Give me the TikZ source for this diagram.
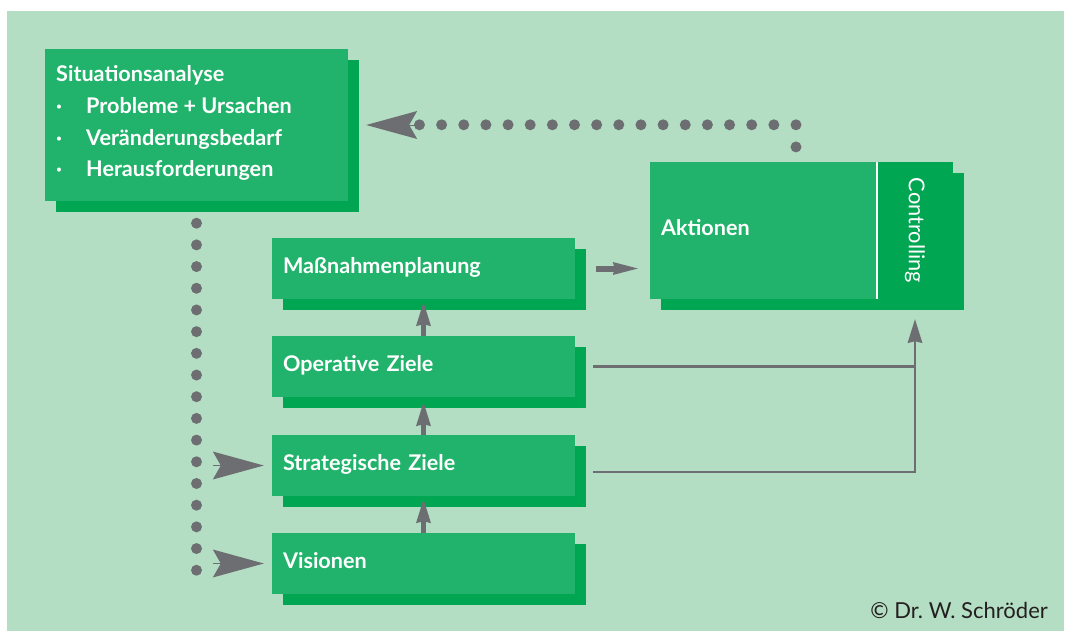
\documentclass[tikz,border=0pt]{standalone}
\usepackage{fontspec}
\setmainfont{Lato}
\usetikzlibrary{arrows.meta,shadows,calc}
\definecolor{bg}{HTML}{B4DEC3}
\definecolor{boxgreen}{HTML}{21B36B}
\definecolor{darkgreen}{HTML}{00A651}
\definecolor{arrowgray}{HTML}{6D6E71}
\definecolor{inkdark}{HTML}{231F20}
\newcommand{\boxfont}{\bfseries\fontsize{21.6}{26}\selectfont}
\tikzset{
  box/.style={fill=boxgreen, draw=none,
    general shadow={fill=darkgreen, shadow xshift=11pt, shadow yshift=-11pt},
    minimum width=303pt, text width=281pt, inner xsep=11pt, inner ysep=0pt,
    text height=15.7pt, text depth=5.7pt, align=left, font=\boxfont, text=white},
  lbl/.style={anchor=base west, inner sep=0pt, text=white, font=\boxfont},
  dots/.style={arrowgray, line width=11pt, line cap=round, dash pattern=on 0pt off #1},
  uparrow/.style={draw=arrowgray, line width=5pt,
    -{Stealth[length=24pt, width=15pt, inset=2pt, line width=0pt]}},
  rarrow/.style={draw=arrowgray, line width=6pt,
    -{Stealth[length=25pt, width=13pt, inset=2pt, line width=0pt]}},
  ctrlline/.style={draw=arrowgray, line width=2.5pt},
  ctrlarrow/.style={ctrlline, -{Stealth[length=24pt, width=15pt, inset=2pt, line width=0pt]}},
  bigarrow/.style={draw=arrowgray, line width=0.2pt,
    -{Stealth[length=51pt, width=28pt, inset=8pt, line width=0pt]}},
}
\begin{document}
\begin{tikzpicture}[x=1pt, y=-1pt]
  % page and panel
  \fill[white] (0,0) rectangle (1071,631);
  \useasboundingbox (0,0) rectangle (1071,631);
  \fill[bg] (7,11) rectangle (1064,631);

  % situation analysis
  \node[box, minimum height=152pt] (sa) at (196.5,125) {};
  \node[lbl] (s1) at (56,82) {Situationsanalyse};
  \node[lbl] (b2) at (56,113.7) {·};
  \node[lbl] (s2) at (86,113.7) {Probleme + Ursachen};
  \node[lbl] (b3) at (56,145.3) {·};
  \node[lbl] (s3) at (86,145.3) {Veränderungsbedarf};
  \node[lbl] (b4) at (56,177) {·};
  \node[lbl] (s4) at (86,177) {Herausforderungen};

  % planning chain
  \node[box, minimum height=61pt] (ma) at (423.5,268.5) {Maßnahmenplanung};
  \node[box, minimum height=61pt] (op) at (423.5,366.5) {Operative Ziele};
  \node[box, minimum height=61pt] (st) at (423.5,465.5) {Strategische Ziele};
  \node[box, minimum height=61pt] (vi) at (423.5,563.5) {Visionen};

  % actions with controlling strip
  \node[box, minimum height=137pt] (akt) at (801.5,230.5) {Aktionen};
  \node[fill=darkgreen, minimum width=76pt, minimum height=137pt, inner sep=0pt,
        anchor=north east] (ctrl) at (akt.north east) {};
  \draw[white, line width=2pt] (ctrl.north west) -- (ctrl.south west);
  \node[rotate=-90, inner sep=0pt, text=white, font=\fontsize{21.8}{26}\selectfont]
        (ctrltxt) at (ctrl.center) {Controlling};

  % upward arrows
  \draw[uparrow] (op.north) -- ([yshift=-3pt]ma.south);
  \draw[uparrow] (st.north) -- ([yshift=-5pt]op.south);
  \draw[uparrow] (vi.north) -- ([yshift=-3pt]st.south);

  % planning to actions
  \draw[rarrow] ([xshift=21pt]ma.east) -- ([xshift=-12pt]ma.east -| akt.west);

  % feedback into controlling
  \coordinate (cx) at ([yshift=-20pt]ctrl.south);
  \draw[ctrlline] ([xshift=18pt]op.east) -- (op.east -| cx);
  \draw[ctrlarrow] ([xshift=18pt, yshift=-6.5pt]st.east) -| (cx);

  % dotted feedback loop
  \coordinate (d0) at ($(akt.north)+(-5.5,-14.85)$);
  \draw[dots=22.15pt] (d0) -- ++(0,-22.15) -- ++(-376.8,0);
  \draw[bigarrow] ([xshift=69pt]sa.east) -- ([xshift=18pt]sa.east);

  \draw[dots=21.69pt] ($(sa.south)+(0,22)$) -- ++(0,347.2);
  \draw[bigarrow] ([xshift=-59pt]st.west) -- ([xshift=-8pt]st.west);
  \draw[bigarrow] ([xshift=-59pt]vi.west) -- ([xshift=-8pt]vi.west);

  % copyright
  \node[anchor=base east, inner sep=0pt, text=inkdark,
        font=\fontsize{22}{26}\selectfont] (copy) at (1048,618) {© Dr.\ W.\ Schröder};
\end{tikzpicture}
\end{document}
